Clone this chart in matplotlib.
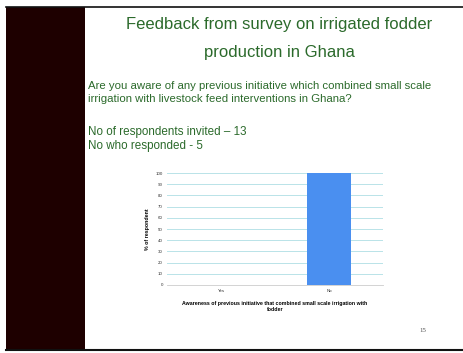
import numpy as np
import matplotlib.pyplot as plt
from matplotlib.patches import Rectangle
from matplotlib.lines import Line2D

categories = ['Yes', 'No']
percent = [0, 100]
yticks = [0, 10, 20, 30, 40, 50, 60, 70, 80, 90, 100]

green = '#2b6a2b'

fig = plt.figure(figsize=(4.64, 3.53), dpi=100)
fig.patch.set_facecolor('white')
plt.rcParams['font.family'] = ['Liberation Sans', 'DejaVu Sans']

# slide frame
fig.add_artist(Rectangle((6/464, 1-350/353), 79/464, 343/353, transform=fig.transFigure,
                         facecolor='#1e0000', edgecolor='none'))
fig.add_artist(Line2D([6/464, 1], [1-7/353, 1-7/353], transform=fig.transFigure, color='#111111', lw=1.2))
fig.add_artist(Line2D([6/464, 1], [1-350/353, 1-350/353], transform=fig.transFigure, color='#111111', lw=1.5))

# slide texts
fig.text(279/464, 1-25/353, 'Feedback from survey on irrigated fodder', ha='center', va='center',
         fontsize=12, color=green)
fig.text(279/464, 1-52/353, 'production in Ghana', ha='center', va='center', fontsize=12, color=green)
fig.text(88/464, 1-86/353, 'Are you aware of any previous initiative which combined small scale',
         ha='left', va='center', fontsize=8.2, color=green)
fig.text(88/464, 1-99/353, 'irrigation with livestock feed interventions in Ghana?',
         ha='left', va='center', fontsize=8.2, color=green)
fig.text(88/464, 1-132/353, 'No of respondents invited \u2013 13', ha='left', va='center', fontsize=8.4, color=green)
fig.text(88/464, 1-146/353, 'No who responded - 5', ha='left', va='center', fontsize=8.4, color=green)
fig.text(423/464, 1-331/353, '15', ha='center', va='center', fontsize=5, color='#555555', family='Liberation Serif')

# chart
ax = fig.add_axes([167/464, 1-285/353, 216/464, 112/353])
x = np.arange(len(categories))
ax.bar(x, percent, width=0.41, color='#4a8ff0', zorder=3)
ax.set_xlim(-0.5, 1.5)
ax.set_ylim(0, 100)
ax.set_yticks(yticks)
ax.set_xticks(x)
ax.set_xticklabels(categories)
ax.tick_params(axis='both', labelsize=3.2, length=0, pad=3, colors='#333333')
ax.grid(axis='y', color='#b9e3e8', lw=0.7, zorder=0)
for s in ['top', 'right', 'left']:
    ax.spines[s].set_visible(False)
ax.spines['bottom'].set_color('#cccccc')
ax.spines['bottom'].set_linewidth(0.6)
ax.set_ylabel('% of respondent', fontsize=3.8, fontweight='bold', labelpad=4)
ax.set_xlabel('Awareness of previous initiative that combined small scale irrigation with\nfodder',
              fontsize=3.8, fontweight='bold', labelpad=6)

fig.savefig('out.png', dpi=100)
